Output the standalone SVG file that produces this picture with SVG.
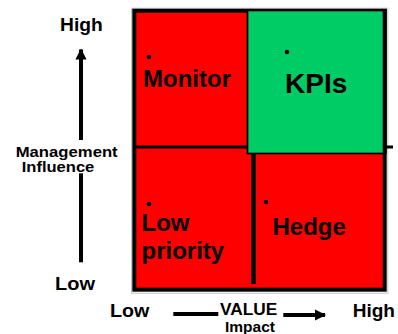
<svg xmlns="http://www.w3.org/2000/svg" width="398" height="334" viewBox="0 0 398 334">
  <defs>
    <style>
      text { font-family: "Liberation Sans", Arial, sans-serif; font-weight: bold; fill: #000; }
      .q { font-size: 24px; }
      .ax { font-size: 18.5px; }
      .rule { stroke: #000; fill: none; }
      .dot { fill: #000; }
    </style>
    <marker id="head" viewBox="0 0 10 10" refX="9" refY="5" markerWidth="3" markerHeight="2.8" orient="auto" markerUnits="strokeWidth">
      <path d="M0,0 L10,5 L0,10 Z" fill="#000"/>
    </marker>
  </defs>

  <!-- matrix frame -->
  <g id="frame">
    <rect x="131.5" y="8.2" width="256.3" height="285" fill="none" stroke="#c4c4c4" stroke-width="1"/>
    <rect x="134.3" y="10.7" width="250.4" height="279" fill="#ff0000" stroke="#000" stroke-width="4"/>
    <line class="rule" x1="133" y1="147" x2="393" y2="147" stroke-width="2.8"/>
    <line class="rule" x1="253.5" y1="153" x2="253.5" y2="284" stroke-width="4.5"/>
  </g>

  <!-- quadrants -->
  <g id="monitor">
    <circle class="dot" cx="149" cy="57" r="2.3"/>
    <text class="q" x="143" y="87">Monitor</text>
  </g>
  <g id="kpis">
    <rect x="247.5" y="10.5" width="137" height="143" fill="#00cc66" stroke="#000" stroke-width="1.7"/>
    <line class="rule" x1="384.7" y1="9" x2="384.7" y2="154" stroke-width="4"/>
    <circle class="dot" cx="287" cy="52" r="2.3"/>
    <text x="285" y="92.5" font-size="28">KPIs</text>
  </g>
  <g id="low-priority">
    <circle class="dot" cx="149" cy="204" r="2.3"/>
    <text class="q" x="141.5" y="230.5">Low</text>
    <text class="q" x="141.5" y="258.5">priority</text>
  </g>
  <g id="hedge">
    <circle class="dot" cx="266" cy="202" r="2.3"/>
    <text class="q" x="272.5" y="235">Hedge</text>
  </g>

  <!-- axis labels -->
  <g id="y-axis-labels">
    <text class="ax" x="60" y="30.5" textLength="42.7" lengthAdjust="spacingAndGlyphs">High</text>
    <text x="15.7" y="157" font-size="15.5" textLength="102" lengthAdjust="spacingAndGlyphs">Management</text>
    <text x="21.7" y="171.5" font-size="15.5" textLength="72.6" lengthAdjust="spacingAndGlyphs">Influence</text>
    <text class="ax" x="55" y="290" textLength="40" lengthAdjust="spacingAndGlyphs">Low</text>
  </g>
  <g id="x-axis-labels">
    <text class="ax" x="110" y="316.7" textLength="39.3" lengthAdjust="spacingAndGlyphs">Low</text>
    <text x="220" y="314.5" font-size="16.5" textLength="57.3" lengthAdjust="spacingAndGlyphs">VALUE</text>
    <text x="225" y="332.2" font-size="15.5" textLength="50" lengthAdjust="spacingAndGlyphs">Impact</text>
    <text class="ax" x="352.7" y="316.7" textLength="42.3" lengthAdjust="spacingAndGlyphs">High</text>
  </g>

  <!-- axis arrows -->
  <g id="connectors">
    <line class="rule" x1="81" y1="140" x2="81" y2="49.5" stroke-width="4" marker-end="url(#head)"/>
    <line class="rule" x1="81" y1="173.3" x2="81" y2="262.3" stroke-width="4"/>
    <line class="rule" x1="173.3" y1="314" x2="218.3" y2="314" stroke-width="4"/>
    <line class="rule" x1="283.3" y1="315" x2="325" y2="315" stroke-width="4" marker-end="url(#head)"/>
  </g>
</svg>
